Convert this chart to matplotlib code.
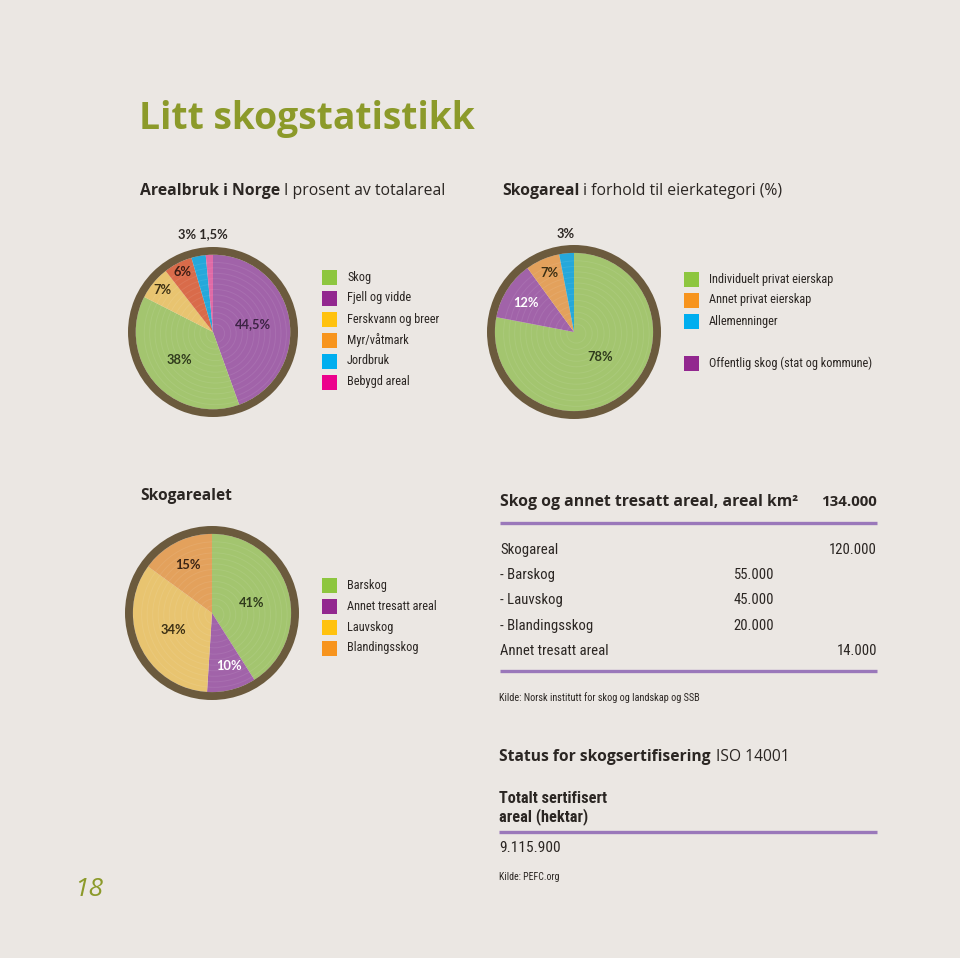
import matplotlib.pyplot as plt
from matplotlib import font_manager

# --- data ---
land_labels = ['Skog', 'Fjell og vidde', 'Ferskvann og breer', 'Myr/våtmark', 'Jordbruk', 'Bebygd areal']
land_share = [38, 44.5, 7, 6, 3, 1.5]
land_order = ['Fjell og vidde', 'Skog', 'Ferskvann og breer', 'Myr/våtmark', 'Jordbruk', 'Bebygd areal']

owner_labels = ['Individuelt privat eierskap', 'Annet privat eierskap', 'Allemenninger', 'Offentlig skog (stat og kommune)']
owner_share = [78, 7, 3, 12]
owner_order = ['Individuelt privat eierskap', 'Offentlig skog (stat og kommune)', 'Annet privat eierskap', 'Allemenninger']

forest_labels = ['Barskog', 'Annet tresatt areal', 'Lauvskog', 'Blandingsskog']
forest_share = [41, 10, 34, 15]

table_rows = ['Skogareal', '- Barskog', '- Lauvskog', '- Blandingsskog', 'Annet tresatt areal']
table_sub = ['', '55.000', '45.000', '20.000', '']
table_total = ['120.000', '', '', '', '14.000']
total_area = '134.000'
certified_ha = '9.115.900'

# --- style ---
BG = '#ebe7e3'
TXT = '#2b2623'
OLIVE = '#8c9a2a'
RING = '#6b5a3d'
LINE = '#9a78ba'

names = {f.name for f in font_manager.fontManager.ttflist}
HEAD = ['Open Sans', 'DejaVu Sans']
LBLF = ['Lato', 'DejaVu Sans']
BODY = [n for n in ['Liberation Sans Narrow', 'Roboto Condensed', 'Lato'] if n in names] + ['DejaVu Sans']

pie_col = {'green': '#a3c56f', 'purple': '#a163a9', 'yellow': '#e8c470',
           'red': '#d96b4a', 'orange': '#e3a15c', 'blue': '#25a8db', 'pink': '#e06aa6'}
leg_col = {'green': '#8dc63f', 'purple': '#92278f', 'yellow': '#ffc20e',
           'red': '#f7941d', 'orange': '#f7941d', 'blue': '#00aeef', 'pink': '#ec008c'}

land_colors = dict(zip(land_labels, ['green', 'purple', 'yellow', 'red', 'blue', 'pink']))
owner_colors = dict(zip(owner_labels, ['green', 'orange', 'blue', 'purple']))
forest_colors = dict(zip(forest_labels, ['green', 'purple', 'yellow', 'orange']))

W, H = 960, 958
fig = plt.figure(figsize=(W / 100, H / 100), dpi=100, facecolor=BG)
bg = fig.add_axes([0, 0, 1, 1], zorder=10)
bg.set_xlim(0, W)
bg.set_ylim(H, 0)
bg.patch.set_alpha(0)
bg.axis('off')
rend = fig.canvas.get_renderer()


def fit(s, px, family=BODY, weight='normal'):
    # font size that makes string s about px pixels wide
    t = bg.text(0, 0, s, fontsize=10, family=family, fontweight=weight)
    w = t.get_window_extent(rend).width
    t.remove()
    return 10 * px / w


def txt(x, y, s, size, weight='normal', color=TXT, ha='left', family=BODY, va='baseline', **kw):
    return bg.text(x, y, s, fontsize=size, fontweight=weight, color=color, ha=ha, va=va,
                   family=family, **kw)


def pair(x, y, bold, rest, size, family=HEAD, gap=4):
    t = txt(x, y, bold, size, 'bold', family=family)
    x1 = t.get_window_extent(rend).x1
    txt(x1 + gap, y, rest, size, family=family)


LBL = fit('44,5%', 36, LBLF, 'bold')


def pie(cx, cy, R, values, colors, labels):
    s = 2 * R
    ax = fig.add_axes([(cx - R) / W, 1 - (cy + R) / H, s / W, s / H])
    ax.pie(values, colors=colors, startangle=90, counterclock=False, radius=1.0,
           wedgeprops=dict(linewidth=0))
    # faint growth rings
    for r in [0.12, 0.2, 0.27, 0.35, 0.42, 0.5, 0.57, 0.64, 0.71, 0.78, 0.85, 0.92]:
        ax.add_patch(plt.Circle((0.03, -0.02), r, fill=False, color='white', lw=0.7, alpha=0.08))
    ax.pie([1], colors=[RING], radius=1.1, wedgeprops=dict(width=0.1, linewidth=0))
    ax.set_xlim(-1.1, 1.1)
    ax.set_ylim(-1.1, 1.1)
    ax.set_aspect('equal')
    ax.axis('off')
    for (px, py, s_, c) in labels:
        txt(px, py, s_, LBL, 'bold', color=c, ha='center', family=LBLF, va='center')


LEG = fit('Ferskvann og breer', 92)


def legend(x, ys, names_, colors):
    for y, n in zip(ys, names_):
        bg.add_patch(plt.Rectangle((x, y - 7.5), 15, 15, color=leg_col[colors[n]], lw=0))
        txt(x + 25, y, n, LEG, va='center')


# title
txt(139, 129, 'Litt skogstatistikk', fit('Litt skogstatistikk', 338, HEAD, 'bold'), 'bold',
    color=OLIVE, family=HEAD)
SUB = fit('Arealbruk i Norge I prosent av totalareal', 295, HEAD)
pair(140, 195, 'Arealbruk i Norge', 'I prosent av totalareal', SUB)
pair(502, 195, 'Skogareal', 'i forhold til eierkategori (%)', SUB)

# pie 1
vals = [land_share[land_labels.index(n)] for n in land_order]
pie(213, 332, 85, vals, [pie_col[land_colors[n]] for n in land_order],
    [(253, 324, '44,5%', '#3d2345'), (179, 360, '38%', '#2f3a1c'), (162, 290, '7%', '#3b2f14'),
     (183, 272, '6%', '#3b1d14'), (203, 234, '3% 1,5%', TXT)])
legend(322, [277, 298, 319, 340, 361, 382], land_labels, land_colors)

# pie 2
vals = [owner_share[owner_labels.index(n)] for n in owner_order]
pie(574, 332, 87, vals, [pie_col[owner_colors[n]] for n in owner_order],
    [(600, 357, '78%', '#2f3a1c'), (526, 303, '12%', 'white'), (549, 273, '7%', '#3b2f14'),
     (566, 234, '3%', TXT)])
legend(684, [279, 300, 321, 363], owner_labels, owner_colors)

# pie 3
txt(140, 500, 'Skogarealet', fit('Skogarealet', 92, HEAD, 'bold'), 'bold', family=HEAD)
pie(212, 613, 87, forest_share, [pie_col[forest_colors[n]] for n in forest_labels],
    [(188, 565, '15%', '#3b2414'), (252, 603, '41%', '#2f3a1c'), (173, 630, '34%', '#3b2f14'),
     (229, 666, '10%', 'white')])
legend(322, [585, 606, 627, 648], forest_labels, forest_colors)

# table
HS = fit('Skog og annet tresatt areal, areal km²', 298, HEAD, 'bold')
txt(500, 506, 'Skog og annet tresatt areal, areal km²', HS, 'bold', family=HEAD)
txt(877, 506, total_area, HS * 0.95, 'bold', ha='right', family=HEAD)
bg.plot([500, 877], [523, 523], color=LINE, lw=2.4, solid_capstyle='butt')
TS = fit('Annet tresatt areal', 107)
for i, (name, sub, tot) in enumerate(zip(table_rows, table_sub, table_total)):
    y = 550 + i * 25.2
    txt(500, y, name, TS, va='center')
    if sub:
        txt(774, y, sub, TS, ha='right', va='center')
    if tot:
        txt(877, y, tot, TS, ha='right', va='center')
bg.plot([500, 877], [671, 671], color=LINE, lw=2.4, solid_capstyle='butt')
txt(499, 701, 'Kilde: Norsk institutt for skog og landskap og SSB',
    fit('Kilde: Norsk institutt for skog og landskap og SSB', 200))

# certification
ST = fit('Status for skogsertifisering', 212, HEAD, 'bold')
pair(499, 761, 'Status for skogsertifisering', 'ISO 14001', ST, gap=6)
CB = fit('Totalt sertifisert', 107, BODY, 'bold')
txt(499, 803, 'Totalt sertifisert', CB, 'bold')
txt(499, 821, 'areal (hektar)', CB, 'bold')
bg.plot([499, 877], [832, 832], color=LINE, lw=2.4, solid_capstyle='butt')
txt(499, 852, certified_ha, fit(certified_ha, 61))
txt(499, 880, 'Kilde: PEFC.org', fit('Kilde: PEFC.org', 60))

txt(74, 896, '18', 19, color=OLIVE, family=HEAD, style='italic')

fig.savefig('out.png', dpi=100, facecolor=BG)
